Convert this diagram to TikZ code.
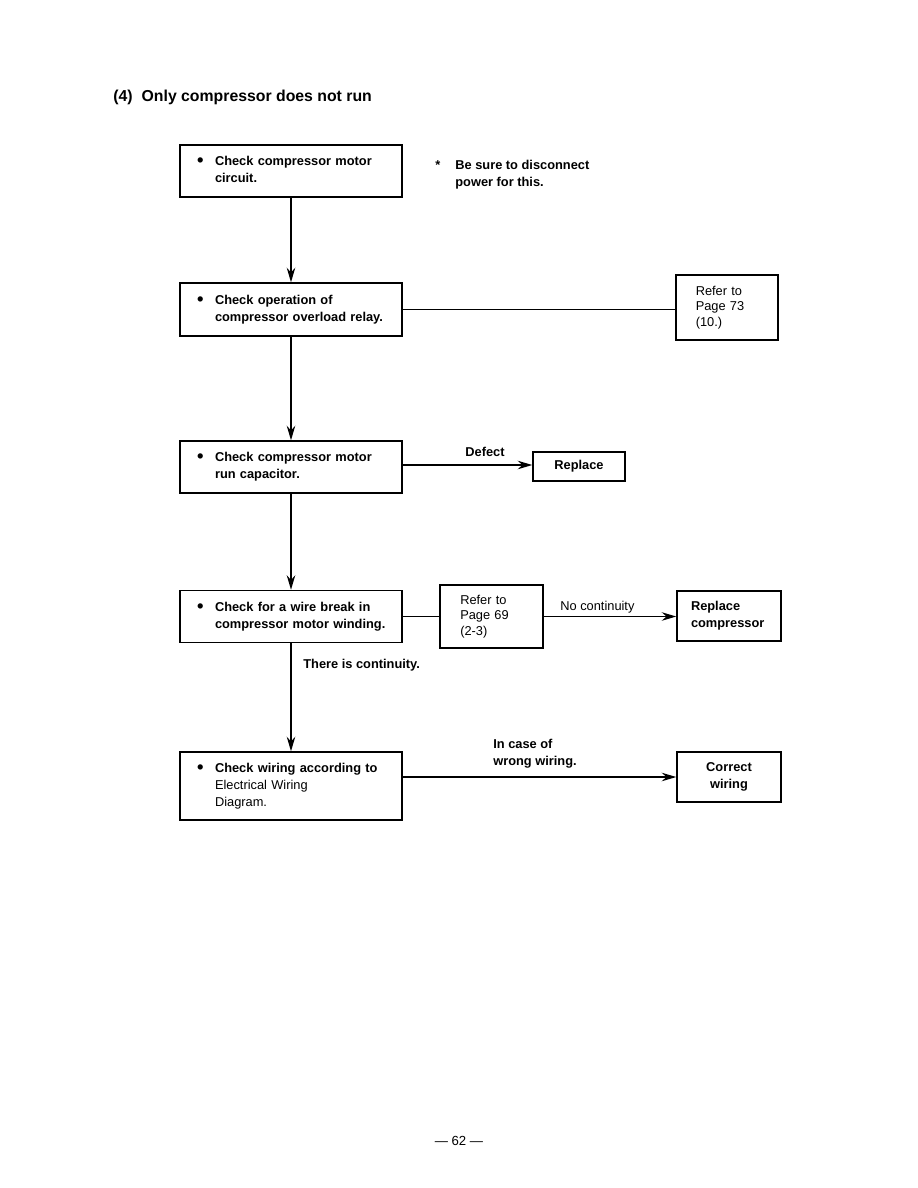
\documentclass[tikz,border=0pt]{standalone}
\usepackage{fontspec}
\setmainfont{Liberation Sans}
\usetikzlibrary{positioning,arrows.meta}

\newcommand{\bul}{\raisebox{-0.15ex}{\fontsize{10.5}{9}\selectfont\textbullet}}
\newcommand{\chk}[2]{\begin{tabular}{@{}p{3.6mm}@{}l@{}}\bul & #1\\ & #2\end{tabular}}

\begin{document}
\begin{tikzpicture}[x=0.02cm, y=-0.02cm,
  chkbox/.style={draw, line width=0.85pt, minimum width=4.44cm, minimum height=1.04cm, inner xsep=0.34cm, text width=3.76cm, align=left, font=\fontsize{7.3}{9.7}\selectfont\bfseries},
  refbox/.style={draw, line width=0.85pt, minimum width=2.05cm, inner xsep=0.4cm, text width=1.25cm, align=left, font=\fontsize{7.3}{9}\selectfont},
  endbox/.style={draw, line width=0.85pt, minimum width=2.08cm, minimum height=1.0cm, align=center, font=\fontsize{7.3}{9.7}\selectfont\bfseries},
  lbl/.style={inner sep=0pt, font=\fontsize{7.3}{9.7}\selectfont\bfseries},
  ln/.style={line width=0.85pt},
  arr/.style={line width=0.85pt, -{Stealth[length=2.9mm, width=1.7mm]}}
]
\useasboundingbox (0,0) rectangle (918,1188);
\node[lbl, anchor=west, font=\fontsize{9}{10}\selectfont\bfseries] (title) at (113,97) {(4)\hspace{1.8mm}Only compressor does not run};
% main column of checks
\node[chkbox] (b1) at (291,171) {\chk{Check compressor motor}{circuit.}};
\node[lbl, anchor=north west, align=left] (note) at (435,157) {\begin{tabular}{@{}p{4mm}@{}l@{}}* & Be sure to disconnect\\ & power for this.\end{tabular}};
\node[chkbox, minimum height=1.06cm] (b2) at (291,309.5) {\chk{Check operation of}{compressor overload relay.}};
\node[chkbox] (b3) at (291,467) {\chk{Check compressor motor}{run capacitor.}};
\node[chkbox] (b4) at (291,616.5) {\chk{Check for a wire break in}{compressor motor winding.}};
\node[chkbox, minimum height=1.36cm] (b5) at (291,786) {\begin{tabular}{@{}p{3.6mm}@{}l@{}}\bul & Check wiring according to\\ & \mdseries Electrical Wiring\\ & \mdseries Diagram.\end{tabular}};
% side boxes
\node[refbox, minimum height=1.3cm] (r1) at (727,307.5) {Refer to\\Page 73\\(10.)};
\node[endbox, minimum width=1.84cm, minimum height=0.58cm] (rep) at (579,466.5) {Replace};
\node[refbox, minimum width=2.06cm, minimum height=1.26cm] (r2) at (491.5,616.5) {Refer to\\Page 69\\(2-3)};
\node[endbox, align=left, inner xsep=0.28cm, text width=1.52cm] (repc) at (729,616) {Replace\\compressor};
\node[endbox] (corr) at (729,777) {Correct\\wiring};
% labels
\node[lbl] (defect) at (485,452) {Defect};
\node[lbl, font=\fontsize{7.3}{9.7}\selectfont, anchor=west] (nocont) at (560,607) {No continuity};
\node[lbl, anchor=west] (cont) at (303,665) {There is continuity.};
\node[lbl, anchor=west, align=left] (wrong) at (493,753.5) {In case of\\wrong wiring.};
\node[lbl, font=\fontsize{7.5}{9}\selectfont] (page) at (459,1141) {--- 62 ---};
% connectors
\draw[arr] (b1.south) -- (b2.north);
\draw[arr] (b2.south) -- (b3.north);
\draw[arr] (b3.south) -- (b4.north);
\draw[arr] (b4.south) -- (b5.north);
\draw[ln] (b2.east) -- (b2.east -| r1.west);
\draw[arr] ([yshift=0.04cm]b3.east) -- ([yshift=0.04cm]b3.east -| rep.west);
\draw[ln] (b4.east) -- (r2.west);
\draw[arr] (r2.east) -- (r2.east -| repc.west);
\draw[arr] (b5.east |- corr) -- (corr.west);
\end{tikzpicture}
\end{document}
